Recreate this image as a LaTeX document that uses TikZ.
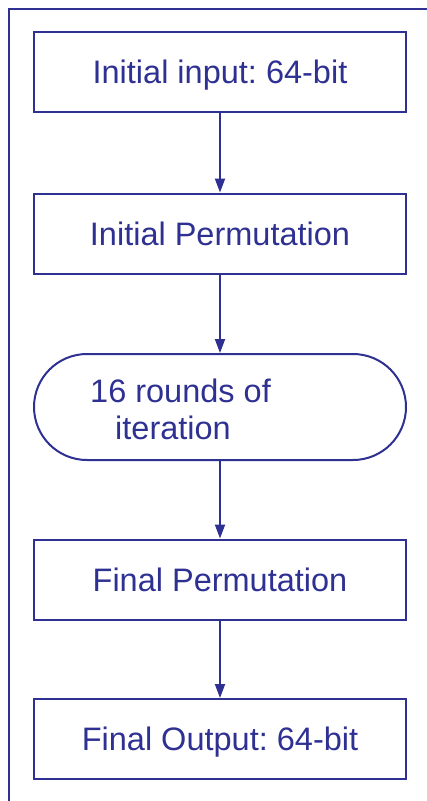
\documentclass[tikz,border=0pt]{standalone}
\usepackage{fontspec}
\setmainfont{Liberation Sans}
\usetikzlibrary{arrows.meta}
\definecolor{desblue}{RGB}{46,49,146}
\frenchspacing
\tikzset{
  flowbox/.style={draw=desblue, line width=2pt, minimum width=372pt, minimum height=80pt,
    inner sep=0pt, text=desblue, font=\fontsize{32.5pt}{37pt}\selectfont,
    text height=23.3pt, text depth=0pt},
  flowround/.style={draw=desblue, line width=2pt, minimum width=372pt, minimum height=106pt,
    inner sep=0pt, rounded corners=53pt},
  flowtext/.style={text=desblue, font=\fontsize{32.5pt}{37pt}\selectfont, inner sep=0pt, anchor=base west},
  flowarrow/.style={draw=desblue, line width=2pt, -{Triangle[length=14pt,width=10pt]}}
}
\begin{document}
\begin{tikzpicture}[x=1pt,y=-1pt]
\useasboundingbox (0,0) rectangle (427,801);
\begin{scope}
\clip (0,0) rectangle (427,801);
\draw[desblue, line width=2pt] (8.5,8.5) rectangle (450,830);
\end{scope}
\node[flowbox] (b1) at (220,72) {Initial input: 64-bit};
\node[flowbox] (b2) at (220,233.5) {Initial Permutation};
\node[flowround] (b3) at (220,407) {};
\node[flowtext] (t3a) at (90,402) {16 rounds of};
\node[flowtext] (t3b) at (115,439) {iteration};
\node[flowbox] (b4) at (220,579.5) {Final Permutation};
\node[flowbox] (b5) at (220,739) {Final Output: 64-bit};
\draw[flowarrow] (b1) -- (b2);
\draw[flowarrow] (b2) -- (b3);
\draw[flowarrow] (b3) -- (b4);
\draw[flowarrow] (b4) -- (b5);
\end{tikzpicture}
\end{document}
